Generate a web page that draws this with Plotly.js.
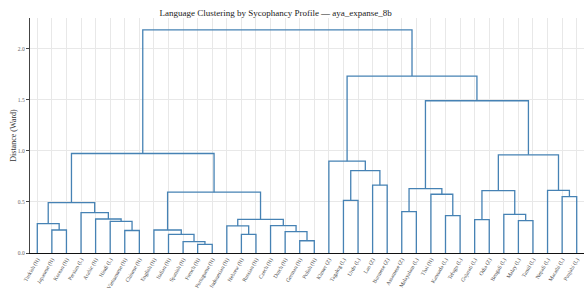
<!DOCTYPE html>
<html>
<head>
<meta charset="utf-8">
<script src="https://cdn.plot.ly/plotly-3.0.1.min.js"></script>
<style>html,body{margin:0;padding:0;background:#fff;}#chart{width:584px;height:294px;}</style>
</head>
<body>
<div id="chart"></div>
<script>
// Leaves in dendrogram order
const leaves = ["Turkish (H)","Japanese (H)","Korean (H)","Persian (L)","Arabic (H)","Hindi (L)","Vietnamese (H)","Chinese (H)","English (H)","Italian (H)","Spanish (H)","French (H)","Portuguese (H)","Indonesian (H)","Hebrew (H)","Russian (H)","Czech (H)","Dutch (H)","German (H)","Polish (H)","Khmer (Z)","Tagalog (L)","Urdu (L)","Lao (Z)","Burmese (Z)","Assamese (Z)","Malayalam (L)","Thai (H)","Kannada (L)","Telugu (L)","Gujarati (L)","Odia (Z)","Bengali (L)","Malay (L)","Tamil (L)","Nepali (L)","Marathi (L)","Punjabi (L)"];

// Linkage: child ids (<38 = leaf, >=38 = merge index + 38) and Ward distance
const mergeLeft   = [11,10,18,14, 9,17, 6, 1, 8,13,16, 0, 5,33,30,47, 4,28,32, 3,25,49,21,36,27,46,52,35,58,23,60,20,64,59,66,69,71];
const mergeRight  = [12,38,19,15,39,40, 7, 2,42,41,43,45,44,34,31,48,50,29,51,54,26,57,22,37,55,53,56,61,62,24,67,68,65,63,70,72,73];
const mergeHeight = [0.085,0.111,0.12,0.183,0.183,0.209,0.22,0.225,0.225,0.265,0.268,0.287,0.31,0.317,0.327,0.33,0.333,0.366,0.379,0.395,0.405,0.493,0.516,0.552,0.575,0.595,0.611,0.613,0.631,0.664,0.807,0.899,0.961,0.974,1.49,1.732,2.183];

const n = leaves.length;
const leafPos = leaves.map((_, i) => 10 * i + 5);
const pos = {}, hgt = {};
leaves.forEach((_, i) => { pos[i] = leafPos[i]; hgt[i] = 0; });
const xs = [], ys = [];
mergeHeight.forEach((h, k) => {
  const a = mergeLeft[k], b = mergeRight[k];
  xs.push(pos[a], pos[a], pos[b], pos[b], null);
  ys.push(hgt[a], h, h, hgt[b], null);
  pos[n + k] = (pos[a] + pos[b]) / 2;
  hgt[n + k] = h;
});

const trace = {
  x: xs, y: ys, type: 'scatter', mode: 'lines',
  line: {color: '#4682b4', width: 1.3},
  hoverinfo: 'skip', showlegend: false
};

const layout = {
  width: 584, height: 294,
  margin: {l: 30, r: 0, t: 18, b: 41},
  paper_bgcolor: '#fff', plot_bgcolor: '#fff',
  font: {family: 'Liberation Serif, Times New Roman, serif', color: '#444'},
  title: {text: 'Language Clustering by Sycophancy Profile — aya_expanse_8b',
          font: {size: 9, color: '#222', family: 'Liberation Serif, serif'},
          x: 0.472, xanchor: 'center', y: 0.955, yanchor: 'middle'},
  xaxis: {
    range: [0, 380], tickmode: 'array', tickvals: leafPos, ticktext: leaves,
    tickangle: -60, tickfont: {size: 5.5, color: '#444'},
    showgrid: true, gridcolor: '#e8e8e8', gridwidth: 1,
    showline: true, linecolor: '#111', linewidth: 1.2,
    ticks: '', zeroline: false
  },
  yaxis: {
    range: [0, 2.3], tickvals: [0, 0.5, 1.0, 1.5, 2.0],
    ticktext: ['0.0','0.5','1.0','1.5','2.0'],
    tickfont: {size: 5.5, color: '#666'},
    showgrid: true, gridcolor: '#e8e8e8', gridwidth: 1,
    showline: true, linecolor: '#444', linewidth: 1.2,
    ticks: 'outside', ticklen: 3, tickcolor: '#444', tickwidth: 1,
    zeroline: false,
    title: {text: 'Distance (Ward)', font: {size: 8, color: '#333'}, standoff: 0}
  }
};

Plotly.newPlot('chart', [trace], layout, {displayModeBar: false, staticPlot: true});
</script>
</body>
</html>
